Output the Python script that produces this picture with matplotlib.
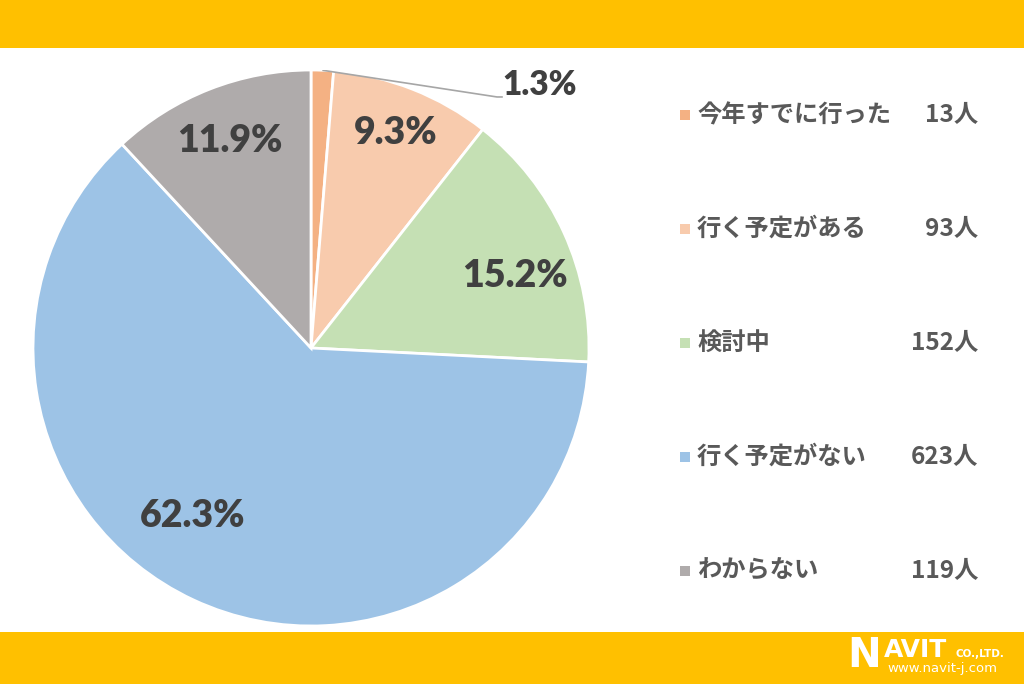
import numpy as np
import matplotlib.pyplot as plt
from matplotlib.patches import Rectangle

plt.rcParams['font.family'] = ['Noto Sans CJK JP', 'DejaVu Sans']

# data
labels = ['今年すでに行った', '行く予定がある', '検討中', '行く予定がない', 'わからない']
counts = [13, 93, 152, 623, 119]
count_labels = ['13人', '93人', '152人', '623人', '119人']
pct_labels = ['1.3%', '9.3%', '15.2%', '62.3%', '11.9%']
colors = ['#F4B183', '#F8CBAD', '#C5E0B4', '#9DC3E6', '#AFABAB']

W, H = 1024, 684
fig = plt.figure(figsize=(W / 100, H / 100), dpi=100)
fig.patch.set_facecolor('white')

# background overlay in pixel coords (y from top)
bg = fig.add_axes([0, 0, 1, 1])
bg.set_xlim(0, W)
bg.set_ylim(H, 0)
bg.axis('off')
bg.add_patch(Rectangle((0, 0), W, 48, color='#FFC000', lw=0))
bg.add_patch(Rectangle((0, 632), W, 52, color='#FFC000', lw=0))

# pie
cx, cy, r = 311, 348, 278
ax = fig.add_axes([(cx - r) / W, (H - cy - r) / H, 2 * r / W, 2 * r / H])
wedges, _ = ax.pie(counts, colors=colors, startangle=90, counterclock=False,
                   radius=1.0, wedgeprops=dict(edgecolor='white', linewidth=2))
ax.set_xlim(-1, 1)
ax.set_ylim(-1, 1)
ax.set_aspect('equal')
ax.axis('off')

pct_font = dict(fontweight='heavy', color='#404040', family='Lato')

# label radius and angle tweak per slice
lab_r = [None, 0.83, 0.78, 0.74, 0.80]
lab_dt = [0, 0, -5, -10, 0]
for i, w in enumerate(wedges):
    mid = np.deg2rad((w.theta1 + w.theta2) / 2 + lab_dt[i])
    if i == 0:
        x0, y0 = np.cos(mid), np.sin(mid)
        ax.plot([x0, 0.669, 0.69], [y0, 0.903, 0.903], color='#A6A6A6', lw=1.2,
                solid_capstyle='butt')
        ax.text(0.69, 0.945, pct_labels[i], ha='left', va='center',
                fontsize=24, **pct_font)
        continue
    ax.text(lab_r[i] * np.cos(mid), lab_r[i] * np.sin(mid), pct_labels[i],
            ha='center', va='center', fontsize=27, **pct_font)

# legend
ys = [115, 229, 343, 457, 571]
for i in range(len(labels)):
    bg.add_patch(Rectangle((680, ys[i] - 5), 10, 10, color=colors[i], lw=0))
    bg.text(697, ys[i], labels[i], ha='left', va='center', fontsize=17.5,
            fontweight='bold', color='#595959')
    bg.text(978, ys[i], count_labels[i], ha='right', va='center', fontsize=17.5,
            fontweight='bold', color='#595959')

# logo
bg.text(847, 667, 'N', ha='left', va='baseline', fontsize=29, fontweight='bold',
        color='white', family='DejaVu Sans')
bg.text(884, 657, 'AVIT', ha='left', va='baseline', fontsize=18, fontweight='bold',
        color='white', family='DejaVu Sans')
bg.text(955, 657, 'CO.,LTD.', ha='left', va='baseline', fontsize=7.5, fontweight='bold',
        color='white', family='DejaVu Sans')
bg.text(887, 672, 'www.navit-j.com', ha='left', va='baseline', fontsize=9.5,
        color='white', family='DejaVu Sans')

fig.savefig('out.png', dpi=100)
